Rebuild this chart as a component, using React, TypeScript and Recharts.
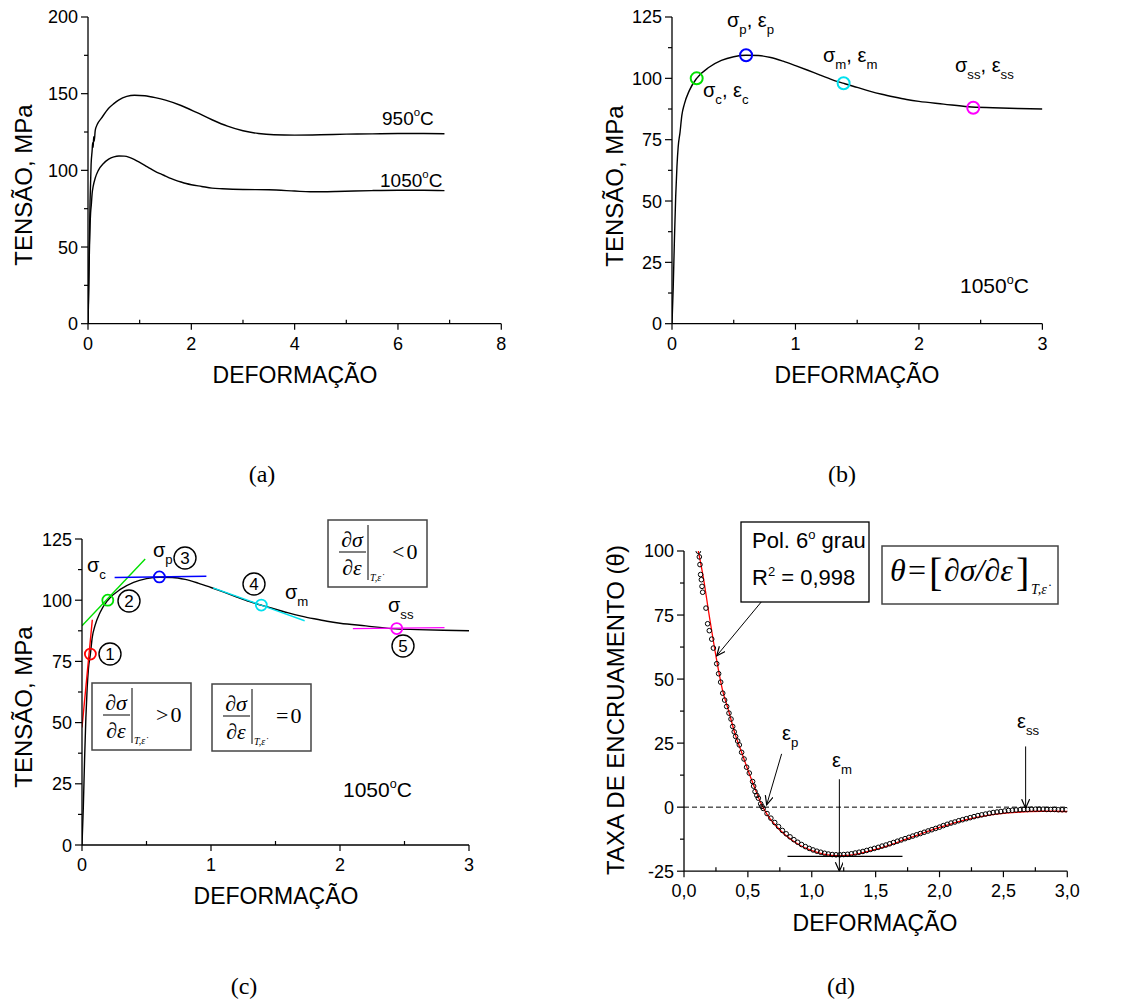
import React from 'react'
import { ComposedChart, Line, Scatter, XAxis, YAxis, ReferenceLine } from 'recharts'

const FONT = '"Liberation Sans", Arial, Helvetica, sans-serif'
const SERIF = '"Liberation Serif", "Times New Roman", serif'

// (a) flow curves, strain vs stress (MPa)
const curve950: number[][] = [
  [0, 0], [0.02, 40], [0.04, 80], [0.06, 104], [0.08, 113], [0.09, 118], [0.1, 115], [0.11, 122],
  [0.12, 119], [0.14, 126], [0.18, 130], [0.26, 134], [0.4, 140.5], [0.5, 143.5], [0.6, 146],
  [0.75, 148.2], [0.9, 149], [1.1, 148.6], [1.3, 147.4], [1.5, 145.8], [1.8, 142.3], [2.1, 137.8],
  [2.4, 133], [2.7, 128.8], [3.0, 125.8], [3.3, 124], [3.6, 123.2], [4.0, 123], [4.5, 123.2],
  [5.0, 123.6], [5.5, 123.8], [6.0, 124], [6.5, 124], [6.9, 123.9],
]
const curve1050: number[][] = [
  [0, 0], [0.01, 15], [0.02, 35], [0.03, 52], [0.04, 64], [0.05, 72], [0.065, 78], [0.08, 85],
  [0.1, 89.5], [0.14, 95], [0.2, 100], [0.3, 104.5], [0.4, 107.3], [0.5, 108.8], [0.6, 109.4],
  [0.7, 109.3], [0.8, 108.5], [0.9, 107], [1.0, 105.2], [1.1, 103.3], [1.2, 101.3], [1.3, 99.4],
  [1.4, 97.8], [1.5, 96.3], [1.6, 94.8], [1.7, 93.5], [1.8, 92.4], [1.9, 91.4], [2.0, 90.6],
  [2.2, 89.5], [2.4, 88.4], [2.6, 88], [2.8, 87.7], [3.0, 87.5], [3.5, 87.3], [4.0, 86.5],
  [4.3, 86], [4.8, 86.2], [5.5, 86.8], [6.0, 87], [6.5, 87], [6.9, 86.8],
]

// (b) characteristic points: c, p, m, ss
const pointsB: number[][] = [[0.2, 100], [0.6, 109.4], [1.39, 98], [2.44, 88]]
// (c) points 1..5 and their tangents
const pointsC: number[][] = [[0.065, 78], [0.2, 100], [0.6, 109.5], [1.39, 98], [2.44, 88.4]]
const tangent1: number[][] = [[0, 48], [0.08, 92]]
const tangent2: number[][] = [[0, 89.6], [0.49, 116.8]]
const tangent3: number[][] = [[0.253, 109.3], [0.964, 109.8]]
const tangent4: number[][] = [[1.016, 105], [1.726, 91.6]]
const tangent5: number[][] = [[2.1, 88.4], [2.81, 88.8]]

// (d) work hardening rate theta vs strain
const thetaPoints: number[][] = [
  [0.112, 99.9], [0.12, 97.7], [0.125, 94.7], [0.13, 90.8], [0.136, 88.8], [0.141, 86.2], [0.146, 83.9],
  [0.172, 77.7], [0.185, 71.6], [0.198, 68.9], [0.217, 65.6], [0.23, 62.1], [0.256, 56], [0.271, 52.1],
  [0.287, 48.8], [0.303, 44.5], [0.318, 41.8], [0.334, 39.3], [0.352, 36.7], [0.368, 34.4], [0.381, 31.5],
  [0.393, 29.4], [0.404, 27.6], [0.42, 25.8], [0.433, 24.3], [0.451, 21.4], [0.47, 18.8], [0.49, 15.6],
  [0.511, 13.3], [0.537, 10], [0.545, 8.2], [0.556, 6.1], [0.57, 4.6], [0.582, 3.5], [0.6, 1.3], [0.61, 0.3],
  [0.62, -0.5], [0.65, -2.5], [0.68, -4.3], [0.71, -6], [0.74, -7.6], [0.77, -9.1], [0.8, -10.4],
  [0.83, -11.6], [0.86, -12.7], [0.89, -13.7], [0.92, -14.6], [0.95, -15.4], [0.98, -16.1], [1.01, -16.7],
  [1.04, -17.2], [1.07, -17.6], [1.1, -18], [1.13, -18.3], [1.16, -18.5], [1.19, -18.6], [1.22, -18.6],
  [1.25, -18.5], [1.28, -18.4], [1.31, -18.2], [1.34, -17.9], [1.37, -17.6], [1.4, -17.3], [1.43, -16.9],
  [1.46, -16.5], [1.49, -16.1], [1.52, -15.7], [1.55, -15.2], [1.58, -14.8], [1.61, -14.3], [1.64, -13.8],
  [1.67, -13.3], [1.7, -12.8], [1.73, -12.3], [1.76, -11.8], [1.79, -11.3], [1.82, -10.8], [1.85, -10.3],
  [1.88, -9.8], [1.91, -9.3], [1.94, -8.8], [1.97, -8.3], [2.0, -7.8], [2.03, -7.2], [2.06, -6.7],
  [2.09, -6.2], [2.12, -5.8], [2.15, -5.3], [2.18, -4.9], [2.21, -4.5], [2.24, -4.1], [2.27, -3.7],
  [2.3, -3.3], [2.33, -3], [2.36, -2.7], [2.39, -2.4], [2.42, -2.1], [2.45, -1.9], [2.48, -1.7],
  [2.51, -1.5], [2.54, -1.3], [2.57, -1.2], [2.6, -1.1], [2.63, -1], [2.66, -0.9], [2.69, -0.9],
  [2.72, -0.8], [2.75, -0.8], [2.78, -0.8], [2.81, -0.8], [2.84, -0.9], [2.87, -0.9], [2.9, -0.9],
  [2.93, -1], [2.96, -1], [2.99, -1],
]
const thetaFit: number[][] = [
  [0.112, 100], [0.15, 90], [0.2, 74], [0.25, 59], [0.3, 46], [0.35, 37.5], [0.4, 28.5], [0.45, 21.5],
  [0.5, 14.5], [0.55, 8], [0.6, 1.8], [0.65, -2.8], [0.7, -6.2], [0.8, -11.2], [0.9, -14.7], [1.0, -17],
  [1.1, -18.4], [1.2, -18.9], [1.3, -18.7], [1.4, -17.8], [1.5, -16.5], [1.6, -15], [1.7, -13.2],
  [1.8, -11.4], [1.9, -9.6], [2.0, -7.9], [2.1, -6.4], [2.2, -5], [2.3, -3.9], [2.4, -3], [2.5, -2.4],
  [2.6, -2], [2.7, -1.7], [2.8, -1.6], [2.9, -1.6], [3.0, -1.7],
]
const minLine: number[][] = [[0.81, -19.2], [1.71, -19.2]]
const arrowFit: number[][] = [[0.608, 80.3], [0.256, 59.1]]
const arrowEp: number[][] = [[0.764, 20.8], [0.647, 0.9]]
const arrowEm: number[][] = [[1.216, 10.9], [1.216, -25]]
const arrowEss: number[][] = [[2.674, 23.7], [2.674, -0.4]]

// tick values
const xMajorA = [0, 2, 4, 6, 8]
const xMinorA = [1, 3, 5, 7]
const yMajorA = [0, 50, 100, 150, 200]
const yMinorA = [25, 75, 125, 175]
const xMajorB = [0, 1, 2, 3]
const xMinorB = [0.5, 1.5, 2.5]
const yMajorB = [0, 25, 50, 75, 100, 125]
const yMinorB = [12.5, 37.5, 62.5, 87.5, 112.5]
const xMajorD = [0, 0.5, 1, 1.5, 2, 2.5, 3]
const xMinorD = [0.25, 0.75, 1.25, 1.75, 2.25, 2.75]
const yMajorD = [-25, 0, 25, 50, 75, 100]
const yMinorD = [-12.5, 12.5, 37.5, 62.5, 87.5]

const colorsB = ['#00e000', '#0000ff', '#00e0ee', '#ff00ff']
const colorsC = ['#ff0000', '#00e000', '#0000ff', '#00e0ee', '#ff00ff']

const toPts = (rows: number[][]) => rows.map(([x, y]) => ({ x, y }))
const upTo = (rows: number[][], max: number) => rows.filter((r) => r[0] <= max)

type Box = { x0: number; x1: number; y0: number; y1: number }
const BOX_A: Box = { x0: 88.3, x1: 501.6, y0: 17.3, y1: 324 }
const BOX_B: Box = { x0: 672.3, x1: 1042.7, y0: 17.3, y1: 324 }
const BOX_C: Box = { x0: 82.3, x1: 469.3, y0: 539.3, y1: 845.3 }
const BOX_D: Box = { x0: 684, x1: 1067.3, y0: 551.3, y1: 871.5 }
const PAD_L = 80
const PAD_T = 12
const PAD_R = 20
const PAD_B = 40

const intFmt = (v: number) => String(v)
const commaFmt = (v: number) => v.toFixed(1).replace('.', ',')

function xTick(major: number[], fmt: (v: number) => string) {
  return (p: any) => {
    const v = p.payload.value
    const isMajor = major.includes(v)
    return (
      <g>
        <line x1={p.x} x2={p.x} y1={p.y} y2={p.y + (isMajor ? 6 : -4)} stroke="#000" strokeWidth={1.2} />
        {isMajor && (
          <text x={p.x} y={p.y + 26} textAnchor="middle" fontSize={18} fill="#000">
            {fmt(v)}
          </text>
        )}
      </g>
    )
  }
}

function yTick(major: number[]) {
  return (p: any) => {
    const v = p.payload.value
    const isMajor = major.includes(v)
    return (
      <g>
        <line x1={p.x} x2={p.x - (isMajor ? 7 : 4)} y1={p.y} y2={p.y} stroke="#000" strokeWidth={1.2} />
        {isMajor && (
          <text x={p.x - 10} y={p.y + 6.5} textAnchor="end" fontSize={18} fill="#000">
            {v}
          </text>
        )}
      </g>
    )
  }
}

function Panel(props: {
  box: Box
  xDomain: [number, number]
  yDomain: [number, number]
  xMajor: number[]
  xMinor: number[]
  yMajor: number[]
  yMinor: number[]
  xFmt: (v: number) => string
  children: React.ReactNode
}) {
  const { box } = props
  const width = box.x1 - box.x0 + PAD_L + PAD_R
  const height = box.y1 - box.y0 + PAD_T + PAD_B
  const sort = (a: number[], b: number[]) => [...a, ...b].sort((m, n) => m - n)
  return (
    <div style={{ position: 'absolute', left: box.x0 - PAD_L, top: box.y0 - PAD_T }}>
      <ComposedChart width={width} height={height} margin={{ top: PAD_T, right: PAD_R, bottom: 0, left: 0 }}>
        <XAxis
          type="number"
          dataKey="x"
          domain={props.xDomain}
          ticks={sort(props.xMajor, props.xMinor)}
          interval={0}
          tickSize={0}
          tickMargin={0}
          tickLine={false}
          height={PAD_B}
          allowDataOverflow
          axisLine={{ stroke: '#000', strokeWidth: 1.3 }}
          tick={xTick(props.xMajor, props.xFmt)}
        />
        <YAxis
          type="number"
          dataKey="y"
          domain={props.yDomain}
          ticks={sort(props.yMajor, props.yMinor)}
          interval={0}
          tickSize={0}
          tickMargin={0}
          tickLine={false}
          width={PAD_L}
          allowDataOverflow
          axisLine={{ stroke: '#000', strokeWidth: 1.3 }}
          tick={yTick(props.yMajor)}
        />
        {props.children}
      </ComposedChart>
    </div>
  )
}

const ring = (r: number, color: string, w: number) => (p: any) => (
  <circle cx={p.cx} cy={p.cy} r={r} fill="none" stroke={color} strokeWidth={w} />
)

function Sym({ x, y, parts, size = 20 }: { x: number; y: number; parts: string[][]; size?: number }) {
  const off = size * 0.33
  return (
    <text x={x} y={y} fontSize={size} fill="#000">
      {parts.map(([main, sub], i) => (
        <React.Fragment key={i}>
          <tspan dy={i === 0 ? 0 : -off}>{main}</tspan>
          <tspan fontSize={size * 0.66} dy={off}>
            {sub}
          </tspan>
        </React.Fragment>
      ))}
    </text>
  )
}

function Deg({ x, y, t, size = 20 }: { x: number; y: number; t: string; size?: number }) {
  return (
    <text x={x} y={y} fontSize={size} fill="#000">
      {t}
      <tspan fontSize={size * 0.6} dy={-size * 0.45}>
        o
      </tspan>
      <tspan dy={size * 0.45}>C</tspan>
    </text>
  )
}

function Circled({ cx, cy, n }: { cx: number; cy: number; n: string }) {
  return (
    <g>
      <circle cx={cx} cy={cy} r={11} fill="none" stroke="#000" strokeWidth={1.4} />
      <text x={cx} y={cy + 6} textAnchor="middle" fontSize={17} fill="#000">
        {n}
      </text>
    </g>
  )
}

function DerivBox({ x, y, rel }: { x: number; y: number; rel: string }) {
  return (
    <g fontFamily={SERIF}>
      <rect x={x} y={y} width={99} height={67} fill="#fff" stroke="#444" strokeWidth={1.5} />
      <text x={x + 24} y={y + 27} textAnchor="middle" fontStyle="italic" fontSize={22}>
        ∂σ
      </text>
      <line x1={x + 11} x2={x + 38} y1={y + 32} y2={y + 32} stroke="#000" strokeWidth={1} />
      <text x={x + 24} y={y + 55} textAnchor="middle" fontStyle="italic" fontSize={22}>
        ∂ε
      </text>
      <line x1={x + 40} x2={x + 40} y1={y + 5} y2={y + 60} stroke="#000" strokeWidth={1} />
      <text x={x + 42} y={y + 61} fontStyle="italic" fontSize={10}>
        {'T,\u03B5\u0307'}
      </text>
      <text x={x + 64} y={y + 39} fontSize={22}>
        {rel}
        <tspan dx={2}>0</tspan>
      </text>
    </g>
  )
}

function Overlay() {
  return (
    <svg
      width={1145}
      height={1003}
      style={{ position: 'absolute', left: 0, top: 0, pointerEvents: 'none', fontFamily: FONT }}
    >
      <defs>
        <marker id="arrowHead" markerWidth={10} markerHeight={10} refX={9} refY={4} orient="auto" markerUnits="userSpaceOnUse">
          <path d="M0,0 L9,4 L0,8" fill="none" stroke="#000" strokeWidth={1.2} />
        </marker>
      </defs>

      {/* (a) */}
      <text transform="translate(32,185) rotate(-90)" textAnchor="middle" fontSize={24}>TENSÃO, MPa</text>
      <text x={295} y={383} textAnchor="middle" fontSize={23}>DEFORMAÇÃO</text>
      <Deg x={382} y={125} t="950" size={19} />
      <Deg x={380} y={187} t="1050" size={19} />
      <text x={262} y={482} textAnchor="middle" fontSize={24} fontFamily={SERIF}>(a)</text>

      {/* (b) */}
      <text transform="translate(623,186) rotate(-90)" textAnchor="middle" fontSize={24}>TENSÃO, MPa</text>
      <text x={857} y={383} textAnchor="middle" fontSize={23}>DEFORMAÇÃO</text>
      <Sym x={727} y={27} parts={[['σ', 'p'], [', ε', 'p']]} />
      <Sym x={823} y={62} parts={[['σ', 'm'], [', ε', 'm']]} />
      <Sym x={955} y={72} parts={[['σ', 'ss'], [', ε', 'ss']]} />
      <Sym x={703} y={97} parts={[['σ', 'c'], [', ε', 'c']]} />
      <Deg x={960} y={293} t="1050" size={21} />
      <text x={842} y={482} textAnchor="middle" fontSize={24} fontFamily={SERIF}>(b)</text>

      {/* (c) */}
      <text transform="translate(32,707) rotate(-90)" textAnchor="middle" fontSize={24}>TENSÃO, MPa</text>
      <text x={276} y={904} textAnchor="middle" fontSize={23}>DEFORMAÇÃO</text>
      <Sym x={87} y={572} parts={[['σ', 'c']]} />
      <Sym x={153} y={557} parts={[['σ', 'p']]} />
      <Sym x={285} y={599} parts={[['σ', 'm']]} />
      <Sym x={388} y={612} parts={[['σ', 'ss']]} />
      <Circled cx={110} cy={654} n="1" />
      <Circled cx={129} cy={601} n="2" />
      <Circled cx={185} cy={558} n="3" />
      <Circled cx={254} cy={584} n="4" />
      <Circled cx={403} cy={646} n="5" />
      <DerivBox x={92} y={683} rel=">" />
      <DerivBox x={212} y={684} rel="=" />
      <DerivBox x={328} y={520} rel="<" />
      <Deg x={343} y={797} t="1050" size={21} />
      <text x={244} y={994} textAnchor="middle" fontSize={24} fontFamily={SERIF}>(c)</text>

      {/* (d) */}
      <text transform="translate(624,710) rotate(-90)" textAnchor="middle" fontSize={24}>TAXA DE ENCRUAMENTO (θ)</text>
      <text x={875} y={931} textAnchor="middle" fontSize={23}>DEFORMAÇÃO</text>
      <rect x={741} y={522} width={128} height={80} fill="#fff" stroke="#000" strokeWidth={1.3} />
      <text x={752} y={548} fontSize={22}>
        Pol. 6<tspan fontSize={13} dy={-9}>o</tspan>
        <tspan dy={9}> grau</tspan>
      </text>
      <text x={752} y={585} fontSize={22}>
        R<tspan fontSize={13} dy={-9}>2</tspan>
        <tspan dy={9}> = 0,998</tspan>
      </text>
      <rect x={882} y={546} width={176} height={58} fill="#fff" stroke="#444" strokeWidth={1.5} />
      <g fontFamily={SERIF}>
        <text x={890} y={581} fontSize={32} fontStyle="italic">θ</text>
        <text x={908} y={581} fontSize={32}>=</text>
        <text x={929} y={586} fontSize={40}>[</text>
        <text x={944} y={581} fontSize={32} fontStyle="italic">∂σ/∂ε</text>
        <text x={1016} y={586} fontSize={40}>]</text>
        <text x={1031} y={594} fontSize={14} fontStyle="italic">{'T,\u03B5\u0307'}</text>
      </g>
      <Sym x={782} y={740} parts={[['ε', 'p']]} />
      <Sym x={832} y={767} parts={[['ε', 'm']]} />
      <Sym x={1017} y={728} parts={[['ε', 'ss']]} />
      <text x={841} y={994} textAnchor="middle" fontSize={24} fontFamily={SERIF}>(d)</text>
    </svg>
  )
}

export default function App() {
  const lineBase = { type: 'linear' as const, dataKey: 'y', dot: false, isAnimationActive: false, activeDot: false }
  return (
    <div
      style={{
        position: 'absolute',
        left: 0,
        top: 0,
        width: 1145,
        height: 1003,
        background: '#fff',
        fontFamily: FONT,
        overflow: 'hidden',
      }}
    >
      <Panel box={BOX_A} xDomain={[0, 8]} yDomain={[0, 200]} xMajor={xMajorA} xMinor={xMinorA} yMajor={yMajorA} yMinor={yMinorA} xFmt={intFmt}>
        <Line {...lineBase} type="monotone" data={toPts(curve950)} stroke="#000" strokeWidth={1.4} />
        <Line {...lineBase} type="monotone" data={toPts(curve1050)} stroke="#000" strokeWidth={1.4} />
      </Panel>

      <Panel box={BOX_B} xDomain={[0, 3]} yDomain={[0, 125]} xMajor={xMajorB} xMinor={xMinorB} yMajor={yMajorB} yMinor={yMinorB} xFmt={intFmt}>
        <Line {...lineBase} type="monotone" data={toPts(upTo(curve1050, 3))} stroke="#000" strokeWidth={1.4} />
        {pointsB.map((pt, i) => (
          <Scatter key={i} data={toPts([pt])} isAnimationActive={false} shape={ring(6, colorsB[i], 2)} />
        ))}
      </Panel>

      <Panel box={BOX_C} xDomain={[0, 3]} yDomain={[0, 125]} xMajor={xMajorB} xMinor={xMinorB} yMajor={yMajorB} yMinor={yMinorB} xFmt={intFmt}>
        <Line {...lineBase} type="monotone" data={toPts(upTo(curve1050, 3))} stroke="#000" strokeWidth={1.4} />
        <Line {...lineBase} data={toPts(tangent1)} stroke={colorsC[0]} strokeWidth={1.4} />
        <Line {...lineBase} data={toPts(tangent2)} stroke={colorsC[1]} strokeWidth={1.4} />
        <Line {...lineBase} data={toPts(tangent3)} stroke={colorsC[2]} strokeWidth={1.4} />
        <Line {...lineBase} data={toPts(tangent4)} stroke={colorsC[3]} strokeWidth={1.4} />
        <Line {...lineBase} data={toPts(tangent5)} stroke={colorsC[4]} strokeWidth={1.4} />
        {pointsC.map((pt, i) => (
          <Scatter key={i} data={toPts([pt])} isAnimationActive={false} shape={ring(5.5, colorsC[i], 1.8)} />
        ))}
      </Panel>

      <Panel box={BOX_D} xDomain={[0, 3]} yDomain={[-25, 100]} xMajor={xMajorD} xMinor={xMinorD} yMajor={yMajorD} yMinor={yMinorD} xFmt={commaFmt}>
        <ReferenceLine y={0} stroke="#000" strokeWidth={1} strokeDasharray="5 3" />
        <Scatter data={toPts(thetaPoints)} isAnimationActive={false} shape={ring(2.3, '#000', 1)} />
        <Line {...lineBase} type="monotone" data={toPts(thetaFit)} stroke="#ff0000" strokeWidth={1.3} />
        <Line {...lineBase} data={toPts(minLine)} stroke="#000" strokeWidth={1.2} />
        <Line {...lineBase} data={toPts(arrowFit)} stroke="#000" strokeWidth={1} markerEnd="url(#arrowHead)" />
        <Line {...lineBase} data={toPts(arrowEp)} stroke="#000" strokeWidth={1} markerEnd="url(#arrowHead)" />
        <Line {...lineBase} data={toPts(arrowEm)} stroke="#000" strokeWidth={1} markerEnd="url(#arrowHead)" />
        <Line {...lineBase} data={toPts(arrowEss)} stroke="#000" strokeWidth={1} markerEnd="url(#arrowHead)" />
      </Panel>

      <Overlay />
    </div>
  )
}
